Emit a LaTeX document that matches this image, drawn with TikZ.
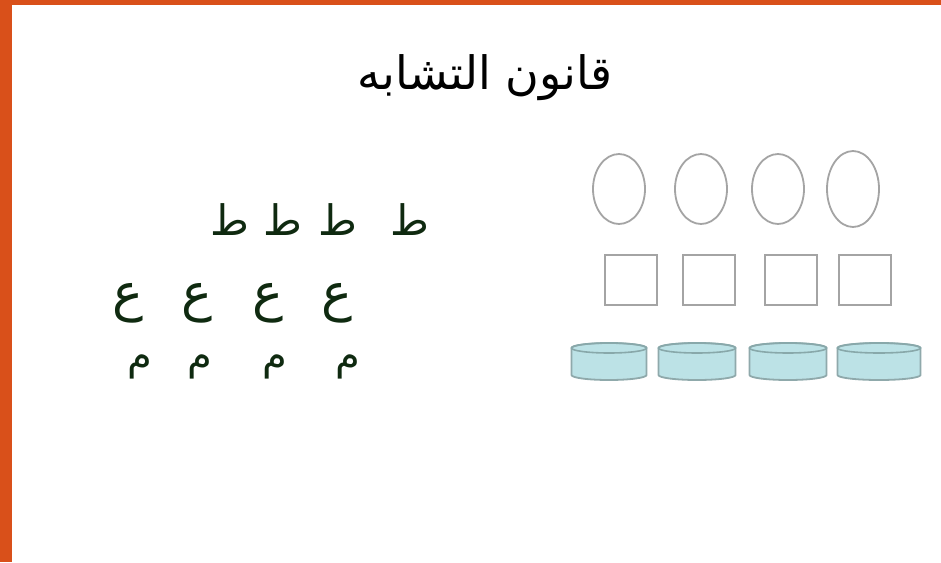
\documentclass[tikz,border=0pt]{standalone}
\usepackage{fontspec}
\usetikzlibrary{shapes.geometric}
\TeXXeTstate=1
\newfontfamily\arabicfont[Script=Arabic]{DejaVu Sans}
\definecolor{frameOrange}{HTML}{D9501A}
\definecolor{letterInk}{HTML}{0F2A10}
\definecolor{shapeEdge}{HTML}{A4A4A4}
\definecolor{drumFill}{HTML}{BCE2E6}
\definecolor{drumEdge}{HTML}{8FA9AB}
\definecolor{drumRim}{HTML}{88A8AA}
\newcommand{\AR}[1]{{\arabicfont\beginR #1\endR}}

\begin{document}
\begin{tikzpicture}[
  x=0.5pt, y=-0.5pt,
  title/.style  = {inner sep=0pt, font=\fontsize{23}{26}\selectfont, text=black},
  letter/.style = {inner sep=0pt, text=letterInk},
  oval/.style   = {ellipse, draw=shapeEdge, line width=0.9pt, inner sep=0pt,
                   minimum width=26pt, minimum height=35pt},
  sq/.style     = {rectangle, draw=shapeEdge, line width=0.9pt, inner sep=0pt,
                   minimum width=26pt, minimum height=25pt},
  drum/.style   = {fill=drumFill, draw=drumEdge, line width=0.9pt},
  rim/.style    = {draw=drumRim, line width=0.8pt},
]
\useasboundingbox (0,0) rectangle (941,562);

% ---------------------------------------------------------------- frame
\fill[white] (0,0) rectangle (941,562);
\fill[frameOrange] (0,0) rectangle (12,562);
\fill[frameOrange] (0,0) rectangle (941,5);

% ---------------------------------------------------------------- title
\node[title] (title) at (485,78) {\AR{قانون التشابه}};

% ---------------------------------------------------------------- letters (left)
\foreach \x [count=\i] in {230,283,338,410} {
  \node[letter, font=\fontsize{21}{24}\selectfont] (ta\i) at (\x,220) {\AR{ط}};
}
\foreach \x [count=\i] in {128,197,268,337} {
  \node[letter, font=\fontsize{26}{30}\selectfont] (ain\i) at (\x,303) {\AR{ع}};
}
\foreach \x [count=\i] in {140,200,275,348} {
  \node[letter, font=\fontsize{20}{24}\selectfont] (mim\i) at (\x,367) {\AR{م}};
}

% ---------------------------------------------------------------- shapes (right)
\foreach \x/\h [count=\i] in {619/35pt,701/35pt,778/35pt,853/38pt} {
  \node[oval, minimum height=\h] (oval\i) at (\x,189) {};
}
\foreach \x [count=\i] in {631,709,791,865} {
  \node[sq] (sq\i) at (\x,280) {};
}
% flat drums: body plus top rim
\foreach \x/\w [count=\i] in {609/37.5,697/38.5,788/38.5,879/41.5} {
  \coordinate (drum\i) at (\x,362);
  \draw[drum] (\x-\w,348) -- (\x-\w,375)
    arc[start angle=180, end angle=360, x radius=\w*0.5pt, y radius=2.5pt]
    -- (\x+\w,348)
    arc[start angle=0, end angle=180, x radius=\w*0.5pt, y radius=2.5pt] -- cycle;
  \draw[rim] (drum\i |- 0,348) ellipse[x radius=\w*0.5pt, y radius=2.5pt];
}

\end{tikzpicture}
\end{document}
